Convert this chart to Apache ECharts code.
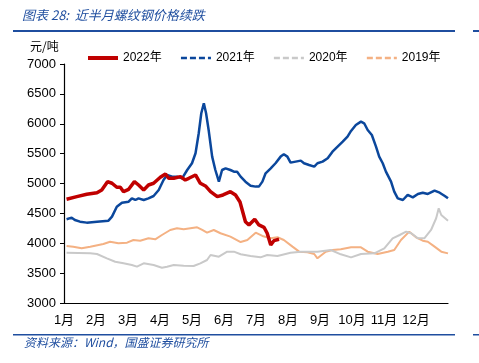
<!DOCTYPE html>
<html><head><meta charset="utf-8">
<script src="https://cdn.jsdelivr.net/npm/echarts@6/dist/echarts.min.js"></script>
<style>html,body{margin:0;padding:0;background:#fff}#c{width:479px;height:363px}</style>
</head><body><div id="c"></div>
<script>
// x positions in months since Jan 1 (0..12)
const monthLabels = ['1月','2月','3月','4月','5月','6月','7月','8月','9月','10月','11月','12月'];
const yTicks = [3000,3500,4000,4500,5000,5500,6000,6500,7000];

const x2022 = [0.08,0.40,0.71,1.03,1.18,1.36,1.50,1.65,1.76,1.86,2.02,2.20,2.33,2.49,2.64,2.80,3.01,3.17,3.27,3.43,3.64,3.79,3.90,4.11,4.26,4.42,4.58,4.79,4.97,5.20,5.36,5.50,5.67,5.78,5.96,6.09,6.25,6.35,6.46,6.56,6.72];
const y2022 = [4736,4780,4820,4846,4892,5031,5004,4937,4937,4863,4903,5031,4975,4892,4975,5004,5104,5159,5087,5087,5115,5059,5087,5143,5004,4959,4863,4780,4808,4863,4808,4690,4361,4306,4401,4306,4267,4167,3971,4043,4066];

const x2021 = [0.08,0.24,0.34,0.50,0.71,1.03,1.39,1.50,1.65,1.81,2.02,2.12,2.23,2.33,2.49,2.64,2.80,2.96,3.11,3.22,3.38,3.53,3.69,3.85,4.00,4.11,4.21,4.29,4.37,4.44,4.52,4.63,4.73,4.84,4.94,5.05,5.20,5.31,5.41,5.52,5.67,5.83,5.99,6.09,6.20,6.30,6.46,6.61,6.77,6.87,6.98,7.08,7.24,7.40,7.50,7.66,7.82,7.92,8.08,8.24,8.39,8.55,8.71,8.86,8.97,9.12,9.28,9.38,9.49,9.62,9.75,9.85,9.96,10.06,10.22,10.32,10.43,10.59,10.74,10.90,11.06,11.21,11.37,11.58,11.74,11.90,12.0];
const y2021 = [4401,4428,4389,4361,4345,4361,4378,4445,4612,4679,4696,4752,4724,4752,4724,4752,4791,4892,5059,5143,5115,5115,5087,5226,5339,5506,5841,6176,6343,6176,5896,5450,5226,5031,5226,5254,5226,5198,5198,5115,5031,4964,4948,4948,5031,5171,5254,5339,5450,5489,5450,5349,5366,5383,5339,5310,5282,5339,5366,5422,5533,5618,5700,5785,5880,5980,6036,6008,5896,5812,5618,5450,5339,5198,5031,4863,4752,4724,4808,4768,4825,4846,4825,4880,4846,4791,4752];

const x2020 = [0.08,0.82,1.03,1.34,1.60,1.86,2.12,2.28,2.49,2.80,3.06,3.22,3.43,3.74,4.05,4.26,4.47,4.58,4.84,5.10,5.31,5.52,5.83,6.14,6.35,6.67,7.08,7.40,7.92,8.34,8.65,8.97,9.28,9.70,10.01,10.27,10.49,10.69,10.85,11.06,11.26,11.47,11.63,11.71,11.79,12.0];
const y2020 = [3842,3831,3820,3748,3691,3664,3636,3608,3664,3636,3591,3608,3636,3625,3619,3664,3720,3803,3775,3859,3859,3815,3787,3764,3803,3787,3842,3859,3859,3887,3815,3764,3820,3831,3915,4083,4138,4194,4167,4083,4083,4222,4418,4585,4473,4378];

const x2019 = [0.08,0.29,0.55,0.82,1.23,1.44,1.70,1.97,2.17,2.38,2.64,2.85,3.06,3.32,3.53,3.74,3.95,4.16,4.32,4.47,4.68,4.89,5.20,5.52,5.73,5.99,6.20,6.46,6.67,6.87,7.14,7.35,7.61,7.82,7.92,8.18,8.39,8.65,8.97,9.28,9.49,9.80,10.12,10.32,10.53,10.79,11.00,11.21,11.37,11.58,11.79,12.0];
const y2019 = [3954,3943,3915,3943,3988,4026,3999,4010,4055,4043,4083,4066,4138,4222,4250,4233,4250,4267,4222,4177,4222,4167,4111,4020,4055,4177,4122,4083,4100,4055,3943,3859,3848,3820,3748,3859,3887,3898,3932,3932,3859,3820,3859,3887,4055,4194,4100,4043,4026,3943,3859,3831];

function pairs(xs, ys){ return xs.map((x,i)=>[x, ys[i]]); }

const chart = echarts.init(document.getElementById('c'), null, {renderer:'canvas'});
const titleColor = '#1f4e9f';
const font = '"Liberation Sans", Arial, "Noto Sans CJK SC", sans-serif';
const hidden = {color:'rgba(0,0,0,0)', borderColor:'rgba(0,0,0,0)', borderWidth:0, opacity:0};
chart.setOption({
  animation:false,
  textStyle:{fontFamily:font},
  grid:{left:64, right:31, top:64, bottom:60, containLabel:false},
  legend:{
    top:47, left:81, itemWidth:30, itemHeight:2, itemGap:18,
    textStyle:{fontSize:12, color:'#000', fontFamily:font},
    itemStyle:hidden,
    data:[
      {name:'2022年', itemStyle:hidden, lineStyle:{width:4}},
      {name:'2021年', itemStyle:hidden, lineStyle:{width:2.5, type:[6,3]}},
      {name:'2020年', itemStyle:hidden, lineStyle:{width:2.5, type:[6,3]}},
      {name:'2019年', itemStyle:hidden, lineStyle:{width:2.5, type:[6,3]}}
    ]
  },
  xAxis:{
    type:'value', min:0, max:12, interval:1,
    axisLine:{lineStyle:{color:'#000', width:1.2}},
    axisTick:{show:false},
    splitLine:{show:false},
    axisLabel:{fontSize:13, color:'#000', margin:11,
      formatter:v=> (v<12 ? monthLabels[Math.round(v)] : '')}
  },
  yAxis:{
    type:'value', min:yTicks[0], max:yTicks[yTicks.length-1], interval:500,
    axisLine:{show:true, lineStyle:{color:'#000', width:1.2}},
    axisTick:{show:true, inside:false, length:4, lineStyle:{color:'#000'}},
    splitLine:{show:false},
    axisLabel:{fontSize:13, color:'#000', margin:8, formatter:v=>String(v)}
  },
  graphic:[
    {type:'text', left:22, top:9, style:{text:'图表 28:  近半月螺纹钢价格续跌', fill:titleColor, font:'italic 13px "Noto Sans CJK SC", sans-serif'}},
    {type:'rect', shape:{x:13, y:30, width:442, height:2}, style:{fill:'#1f4e9f'}},
    {type:'rect', shape:{x:473, y:30, width:6, height:2}, style:{fill:'#1f4e9f'}},
    {type:'text', left:30, top:40, style:{text:'元/吨', fill:'#000', font:'12px "Noto Sans CJK SC", sans-serif'}},
    {type:'rect', shape:{x:13, y:334, width:442, height:1.5}, style:{fill:'#1f4e9f'}},
    {type:'rect', shape:{x:473, y:334, width:6, height:1.5}, style:{fill:'#1f4e9f'}},
    {type:'text', left:24, top:336, style:{text:'资料来源：Wind，国盛证券研究所', fill:titleColor, font:'italic 12px "Noto Sans CJK SC", sans-serif'}}
  ],
  series:[
    {name:'2019年', type:'line', data:pairs(x2019,y2019), showSymbol:false, symbol:'none', z:2,
      lineStyle:{color:'#f4b183', width:2}, itemStyle:{color:'#f4b183'}},
    {name:'2020年', type:'line', data:pairs(x2020,y2020), showSymbol:false, symbol:'none', z:2,
      lineStyle:{color:'#c9c9c9', width:2}, itemStyle:{color:'#c9c9c9'}},
    {name:'2021年', type:'line', data:pairs(x2021,y2021), showSymbol:false, symbol:'none', z:3,
      lineStyle:{color:'#0b479c', width:2.5}, itemStyle:{color:'#0b479c'}},
    {name:'2022年', type:'line', data:pairs(x2022,y2022), showSymbol:false, symbol:'none', z:4,
      lineStyle:{color:'#c00000', width:3.5}, itemStyle:{color:'#c00000'}}
  ]
});
</script></body></html>
